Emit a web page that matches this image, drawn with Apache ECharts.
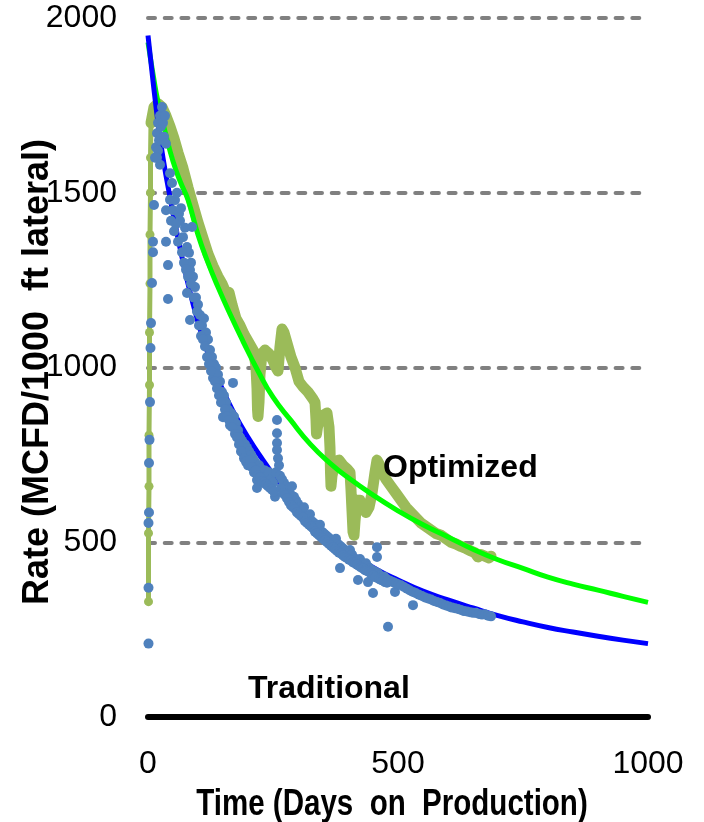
<!DOCTYPE html>
<html><head><meta charset="utf-8">
<script src="https://cdn.jsdelivr.net/npm/echarts@6/dist/echarts.min.js"></script>
<style>html,body{margin:0;padding:0;background:#fff}#c{width:704px;height:822px}</style>
</head><body><div id="c"></div>
<script>
// ---- data (days on production, rate MCFD/1000 ft lateral) ----
const xTicks = [0, 500, 1000];
const yTicks = [0, 500, 1000, 1500, 2000];
const xTitle = 'Time (Days  on  Production)';
const yTitle = 'Rate (MCFD/1000  ft lateral)';
const labelOptimized = 'Optimized';
const labelTraditional = 'Traditional';

const traditionalData = [
[1,210],[1,370],[1,555],[2,585],[2,727],[3,793],[4,901],[5,1056],[6,1127],[8,1242],[10,1330],[10,1360],[12,1465],[14,1600],
[16,1630],[18,1670],[20,1700],[22,1650],[24,1720],[26,1690],[28,1745],[30,1700],[32,1660],[34,1720],[36,1640],[20,1620],[24,1580],[18,1600],
[36,1450],[36,1360],[40,1293],[40,1196],[44,1556],[48,1528],[44,1480],[54,1479],[50,1450],[58,1500],[62,1440],[66,1456],[64,1420],[70,1373],
[74,1400],[78,1345],[82,1328],[86,1300],[88,1402],[84,1279],[90,1260],[94,1230],[78,1213],[84,1136],[96,1200],[100,1180],[104,1150],[108,1120],
[112,1140],[116,1100],[120,1080],[124,1050],[128,1030],[132,1010],[130,970],[136,1000],[140,980],[144,960],[148,930],[150,858],[152,920],[156,900],
[160,880],[164,835],[166,870],[170,956],[172,860],[176,840],[180,820],[184,800],[188,790],[190,755],[194,780],[198,770],[202,760],[206,750],
[210,740],[214,730],[218,678],[218,655],[222,720],[226,710],[230,700],[234,705],[238,690],[242,700],[246,680],[250,670],[254,630],[256,700],
[258,850],[258,812],[258,784],[258,764],[260,740],[262,720],[264,690],[268,680],[272,670],[276,660],[280,650],[284,640],[288,660],[292,630],
[296,620],[300,610],[304,600],[308,590],[312,600],[316,575],[320,570],[324,580],[328,560],[332,555],[336,545],[340,540],[344,550],[348,530],
[352,525],[356,520],[360,515],[364,510],[368,505],[372,500],[376,510],[380,495],[384,426],[384,490],[388,485],[392,480],[396,475],[400,470],
[404,478],[408,465],[412,455],[416,450],[420,392],[420,445],[424,452],[428,440],[432,435],[436,440],[440,386],[440,430],[444,425],[448,420],
[450,355],[452,418],[456,410],[458,486],[458,458],[460,412],[464,405],[468,400],[472,402],[476,396],[480,258],[480,392],[484,390],[488,387],
[492,385],[494,358],[496,382],[500,380],[506,377],[512,372],[518,367],[524,362],[530,320],[530,358],[536,354],[542,350],[548,346],[554,342],
[560,339],[566,336],[572,332],[578,329],[584,326],[590,322],[596,319],[602,316],[608,313],[614,311],[620,309],[626,306],[632,303],[638,302],
[644,300],[650,298],[656,298],[662,295],[668,293],[674,294],[680,290],[686,288],
[46,1420],[52,1390],[56,1410],[60,1360],[68,1330],[72,1300],[76,1280],[80,1260],[86,1240],[92,1200],[98,1160],[102,1120],[106,1090],
[110,1080],[114,1060],[118,1030],[122,1010],[126,990],[134,960],[138,940],[142,920],[146,900],[154,880],[158,860],[162,850],[168,830],
[174,810],[178,800],[182,780],[186,760],[192,740],[196,730],[200,720],[204,735],[208,715],[212,700],[216,705],[220,690],[224,685],
[228,675],[232,670],[236,665],[240,660],[244,655],[248,650],[252,645],[266,655],[270,640],[274,635],[278,625],[282,615],[286,605],
[290,600],[294,595],[298,585],[302,580],[306,575],[310,570],[314,560],[318,555],[322,550],[326,545],[330,540],[334,530],[338,525],
[342,520],[346,515],[350,510],[354,505],[358,500],[362,495],[366,490],[370,485],[374,480],[378,475],[382,470],[386,468],[390,462],
[394,458],[398,455],[402,450],[406,448],[410,442],[414,440],[418,436],[422,432],[426,428],[430,425],[434,420],[438,418],[442,415],
[446,410],[450,405],[454,400],[462,395],[466,392],[470,390],[474,386],[478,384]
];

const optimizedRamp = [
[1,330],[1,526],[2,660],[2,806],[3,950],[3,1100],[4,1240],[4,1380],[5,1500],[5,1600],[6,1700]
];

const optimizedData = [
[6,1700],[12,1745],[20,1755],[28,1745],[36,1720],[44,1690],[52,1655],[60,1615],[70,1570],[80,1515],[90,1465],[100,1415],[110,1370],
[120,1325],[130,1290],[140,1260],[148,1240],[154,1220],[158,1200],[162,1215],[168,1180],[176,1140],[184,1120],[192,1095],[200,1075],
[206,1060],[212,1045],[216,1000],[218,940],[219,880],[220,860],[222,900],[224,980],[228,1040],[234,1050],[242,1040],[250,1020],[256,1000],
[260,990],[264,1060],[268,1110],[272,1100],[278,1070],[286,1030],[294,1000],[302,960],[310,945],[320,930],[330,910],[334,900],[336,850],
[337,810],[339,830],[344,860],[352,865],[358,870],[362,830],[364,770],[365,700],[366,660],[368,690],[374,730],[382,735],[390,720],[398,710],
[404,700],[406,650],[408,590],[410,530],[412,520],[414,560],[418,620],[424,620],[430,600],[436,585],[442,600],[448,640],[454,700],[458,735],
[462,725],[468,700],[476,680],[486,660],[496,640],[506,620],[516,600],[526,585],[536,570],[546,555],[556,545],[566,535],[576,525],[586,520],
[596,510],[606,500],[616,495],[626,488],[636,482],[646,475],[654,470],[660,458],[666,465],[674,460],[682,455],[686,460]
];

const traditionalFit = [
[0,1950],[10,1820],[20,1700],[30,1600],[45,1480],[60,1370],[80,1240],[100,1130],[120,1040],[145,950],[170,875],[200,800],[230,735],
[260,675],[300,600],[340,540],[380,495],[420,455],[460,420],[500,392],[550,360],[600,335],[650,312],[700,290],[750,272],[800,256],
[850,243],[900,231],[950,220],[1000,210]
];

const optimizedFit = [
[0,1930],[10,1840],[20,1760],[35,1670],[50,1590],[65,1530],[80,1480],[100,1380],[120,1300],[140,1230],[165,1150],[190,1075],[220,990],
[250,915],[285,850],[325,780],[365,725],[400,685],[450,635],[500,590],[550,550],[600,515],[650,480],[700,450],[750,425],[800,400],
[850,380],[900,363],[950,345],[1000,328]
];

// ---- chart ----
const chart = echarts.init(document.getElementById('c'), null, {renderer: 'canvas'});
const sans = '"Liberation Sans", Arial, sans-serif';

chart.setOption({
  animation: false,
  backgroundColor: '#ffffff',
  grid: {left: 148, right: 56, top: 18, bottom: 105, containLabel: false},
  xAxis: {
    type: 'value', min: xTicks[0], max: xTicks[xTicks.length - 1], interval: xTicks[1] - xTicks[0],
    axisLine: {show: true, onZero: false, lineStyle: {color: '#000000', width: 6, cap: 'round'}},
    axisTick: {show: false},
    splitLine: {show: false},
    axisLabel: {margin: 31, color: '#000000', fontSize: 32, fontFamily: sans,
      formatter: v => xTicks.includes(v) ? String(v) : ''}
  },
  yAxis: {
    type: 'value', min: yTicks[0], max: yTicks[yTicks.length - 1], interval: yTicks[1] - yTicks[0],
    axisLine: {show: false},
    axisTick: {show: false},
    splitLine: {show: true, lineStyle: {color: '#808080', width: 4, type: [7, 9.7], cap: 'round'}},
    axisLabel: {margin: 31, color: '#000000', fontSize: 32, fontFamily: sans,
      formatter: v => yTicks.includes(v) ? String(v) : ''}
  },
  series: [
    {type: 'line', name: 'Optimized ramp', data: optimizedRamp, z: 1, symbol: 'circle', symbolSize: 9, showAllSymbol: true,
      itemStyle: {color: '#9BBB59'}, lineStyle: {color: '#9BBB59', width: 5, cap: 'round', join: 'round'}},
    {type: 'line', name: 'Optimized', data: optimizedData, z: 1, symbol: 'none',
      lineStyle: {color: '#9BBB59', width: 11, cap: 'round', join: 'round'}},
    {type: 'line', name: 'Optimized fit', data: optimizedFit, z: 2, symbol: 'none', smooth: true,
      lineStyle: {color: '#00FF00', width: 5}},
    {type: 'line', name: 'Traditional fit', data: traditionalFit, z: 3, symbol: 'none', smooth: true,
      lineStyle: {color: '#0000FF', width: 5}},
    {type: 'scatter', name: 'Traditional', data: traditionalData, z: 4, symbol: 'circle', symbolSize: 10,
      itemStyle: {color: '#4F81BD', opacity: 1}}
  ],
  graphic: [
    {type: 'text', x: 38, y: 372, rotation: Math.PI / 2, z: 10,
      style: {text: yTitle, fill: '#000000', font: 'bold 36px ' + sans, align: 'center', verticalAlign: 'middle', textAlign: 'center', textVerticalAlign: 'middle'}},
    {type: 'text', x: 392, y: 805, scaleX: 0.82, z: 10,
      style: {text: xTitle, fill: '#000000', font: 'bold 36px ' + sans, align: 'center', verticalAlign: 'middle', textAlign: 'center', textVerticalAlign: 'middle'}},
    {type: 'text', x: 383, y: 468, z: 10,
      style: {text: labelOptimized, fill: '#000000', font: 'bold 32px ' + sans, align: 'left', verticalAlign: 'middle', textAlign: 'left', textVerticalAlign: 'middle'}},
    {type: 'text', x: 248, y: 689, z: 10,
      style: {text: labelTraditional, fill: '#000000', font: 'bold 32px ' + sans, align: 'left', verticalAlign: 'middle', textAlign: 'left', textVerticalAlign: 'middle'}}
  ]
});
</script>
</body></html>
